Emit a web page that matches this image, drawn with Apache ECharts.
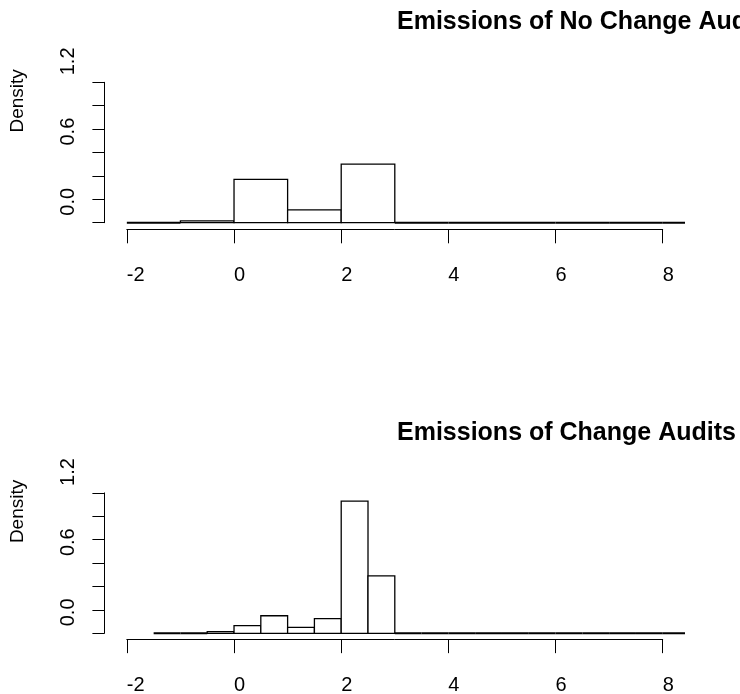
<!DOCTYPE html>
<html>
<head>
<meta charset="utf-8">
<script src="https://cdn.jsdelivr.net/npm/echarts@6/dist/echarts.min.js"></script>
<style>html,body{margin:0;padding:0;background:#fff}#c{width:740px;height:694px}</style>
</head>
<body>
<div id="c"></div>
<script>
// ---- data ----
const titleTop = 'Emissions of No Change Audits';
const titleBottom = 'Emissions of Change Audits';
const yName = 'Density';
const breaksTop = [-2, -1, 0, 1, 2, 3, 4, 5, 6, 7, 8, 9];
const densityTop = [0, 0.015, 0.37, 0.11, 0.5, 0, 0, 0, 0, 0, 0];
const breaksBottom = [-1.5, -1, -0.5, 0, 0.5, 1, 1.5, 2, 2.5, 3, 3.5, 4, 4.5, 5, 5.5, 6, 6.5, 7, 7.5, 8, 8.5, 9];
const densityBottom = [0, 0, 0.014, 0.065, 0.15, 0.05, 0.125, 1.13, 0.49, 0, 0, 0, 0, 0, 0, 0, 0, 0, 0, 0, 0];
const xTicks = [-2, 0, 2, 4, 6, 8];
const yTickLabels = [0, 0.6, 1.2];

const FONT = "'Liberation Sans', Arial, sans-serif";

function bins(breaks, dens) {
  return dens.map((d, i) => [breaks[i], breaks[i + 1], d]);
}

function histItem(params, api) {
  const h = api.value(2);
  const p0 = api.coord([api.value(0), h]);
  const p1 = api.coord([api.value(1), 0]);
  return {
    type: 'rect',
    shape: { x: p0[0], y: p0[1], width: p1[0] - p0[0], height: p1[1] - p0[1] },
    style: { fill: '#fff', stroke: '#000', lineWidth: h === 0 ? 2 : 1.3 }
  };
}

const DY = 410.6;
const grids = [];
const xAxes = [];
const yAxes = [];
const series = [];

[0, 1].forEach(k => {
  const off = k * DY;
  const base = k * 3;
  grids.push({ left: 105.4, top: 76.7 + off, width: 578.8, height: 151.6 });
  grids.push({ left: 104.4, top: 82.3 + off, width: 10, height: 140.4 });
  grids.push({ left: 126.8, top: 228.3 + off, width: 535.9, height: 1 });

  xAxes.push({ gridIndex: base, type: 'value', min: -2.4, max: 8.4, show: false });
  yAxes.push({ gridIndex: base, type: 'value', min: -0.048, max: 1.248, show: false });

  xAxes.push({ gridIndex: base + 1, type: 'value', min: 0, max: 1, show: false });
  yAxes.push({
    gridIndex: base + 1, type: 'value', min: 0, max: 1.2, interval: 0.2,
    name: yName, nameLocation: 'middle', nameRotate: 90, nameGap: 77,
    nameTextStyle: { fontFamily: FONT, fontSize: 19, color: '#000', align: 'left', verticalAlign: 'bottom', padding: [0, 0, 0, 20] },
    axisLine: { show: true, lineStyle: { color: '#000', width: 1 } },
    axisTick: { show: true, length: 12, lineStyle: { color: '#000', width: 1 } },
    splitLine: { show: false },
    axisLabel: {
      rotate: 90, margin: 26, align: 'left', verticalAlign: 'bottom',
      fontFamily: FONT, fontSize: 20, color: '#000', lineHeight: 20,
      padding: [0, 0, 0, 7],
      showMinLabel: true, showMaxLabel: true,
      formatter: v => {
        const hit = yTickLabels.find(t => Math.abs(t - v) < 1e-6);
        return hit === undefined ? '' : hit.toFixed(1);
      }
    }
  });

  xAxes.push({
    gridIndex: base + 2, type: 'value', min: xTicks[0], max: xTicks[xTicks.length - 1], interval: 2,
    position: 'bottom',
    axisLine: { show: true, lineStyle: { color: '#000', width: 1 } },
    axisTick: { show: true, length: 14, lineStyle: { color: '#000', width: 1 } },
    splitLine: { show: false },
    axisLabel: {
      margin: 36, align: 'left', verticalAlign: 'top', lineHeight: 20,
      fontFamily: FONT, fontSize: 20, color: '#000',
      showMinLabel: true, showMaxLabel: true,
      formatter: v => String(v)
    }
  });
  yAxes.push({ gridIndex: base + 2, type: 'value', min: 0, max: 1, show: false });

  series.push({
    type: 'custom',
    xAxisIndex: base, yAxisIndex: base,
    clip: true,
    renderItem: histItem,
    encode: { x: [0, 1], y: 2 },
    data: k === 0 ? bins(breaksTop, densityTop) : bins(breaksBottom, densityBottom),
    silent: true
  });
});

const chart = echarts.init(document.getElementById('c'), null, { renderer: 'canvas' });
chart.setOption({
  animation: false,
  backgroundColor: '#fff',
  title: [
    { text: titleTop, left: 397, top: 10, padding: 0, textStyle: { fontFamily: FONT, fontSize: 25, fontWeight: 'bold', color: '#000' } },
    { text: titleBottom, left: 397, top: 10 + DY, padding: 0, textStyle: { fontFamily: FONT, fontSize: 25, fontWeight: 'bold', color: '#000' } }
  ],
  grid: grids,
  xAxis: xAxes,
  yAxis: yAxes,
  series: series
});
</script>
</body>
</html>
